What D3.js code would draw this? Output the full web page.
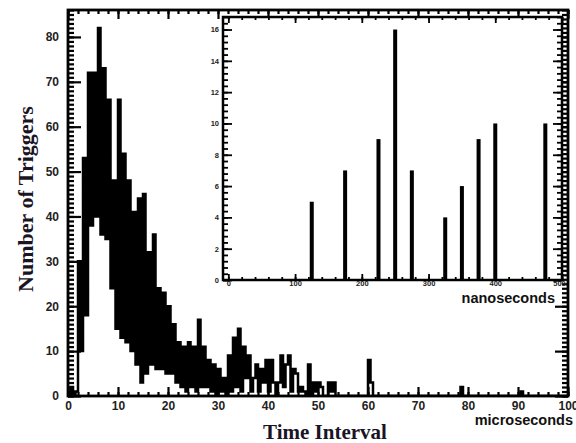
<!DOCTYPE html>
<html><head><meta charset="utf-8">
<script src="https://cdn.jsdelivr.net/npm/d3@7/dist/d3.min.js"></script>
<style>body{margin:0;background:#fff}svg{display:block}</style>
</head><body><svg id="c" width="576" height="443"></svg>
<script>
// ---- data ----
const binWidth = 0.5; // microseconds per bin
const counts = [
 0,2,0,1,30,10,53,18,72,38,
 72,40,82,36,73,35,66,24,48,15,
 66,13,54,12,48,10,41,7,44,3,
 45,5,32,7,36,6,24,6,23,5,
 20,5,16,3,12,2,11,1,12,2,
 11,1,17,2,11,2,8,1,7,0,
 6,1,4,0,9,1,13,2,15,1,
 11,4,9,1,4,7,1,6,3,8,
 1,8,3,0,3,9,2,7,9,1,
 6,5,1,2,1,0,7,0,3,1,
 3,2,0,0,3,1,3,0,0,0,
 0,0,0,0,0,0,0,0,0,0,
 8,3,0,0,0,0,0,0,0,0,
 0,0,0,0,0,0,0,0,0,0,
 0,0,0,0,0,0,0,0,0,0,
 0,0,0,0,0,0,0,2,0,0,
 0,0,0,0,0,0,0,0,0,0,
 0,0,0,0,0,0,0,0,0,0,
 0,1,0,0,0,0,0,0,0,0,
 0,0,0,0,0,0,0,0,0,0
];
const xTicksMain = [0,10,20,30,40,50,60,70,80,90,100];
const yTicksMain = [0,10,20,30,40,50,60,70,80];
const insetTimes  = [125,175,225,250,275,325,350,375,400,475];
const insetCounts = [5,7,9,16,7,4,6,9,10,10];
const xTicksInset = [0,100,200,300,400,500];
const yTicksInset = [0,2,4,6,8,10,12,14,16];

// ---- layout ----
const svg = d3.select('#c');
svg.append('rect').attr('width',576).attr('height',443).attr('fill','#fff');
const L=68, R=568, T=10, B=396;
const x = d3.scaleLinear().domain([0,100]).range([L,R]);
const y = d3.scaleLinear().domain([0,86]).range([B,T]);
const tickFont = 'Liberation Sans, Arial, sans-serif';

function styleAxis(g, fs){
  g.select('.domain').remove();
  g.selectAll('line').attr('stroke','#000').attr('stroke-width',2.2);
  g.selectAll('text').attr('font-family',tickFont).attr('font-weight','bold')
   .attr('font-size',fs).attr('fill','#222');
}

// clip
svg.append('clipPath').attr('id','clipMain').append('rect')
  .attr('x',L).attr('y',T).attr('width',R-L).attr('height',B-T);

// histogram as thick step line
const pts = counts.map((c,i)=>[i*binWidth,c]);
pts.push([counts.length*binWidth, counts[counts.length-1]]);
const line = d3.line().x(d=>x(d[0])).y(d=>y(d[1])).curve(d3.curveStepAfter);
svg.append('path').attr('d', line([[0,0]].concat(pts)))
  .attr('fill','none').attr('stroke','#000').attr('stroke-width',2.5)
  .attr('clip-path','url(#clipMain)');

// main axes
styleAxis(svg.append('g').attr('transform',`translate(0,${B})`)
  .call(d3.axisBottom(x).tickValues(d3.range(0,101,2)).tickSize(-4).tickFormat('')),12);
styleAxis(svg.append('g').attr('transform',`translate(0,${B})`)
  .call(d3.axisBottom(x).tickValues(xTicksMain).tickSize(-9).tickPadding(5).tickFormat(d3.format('d'))),12);
styleAxis(svg.append('g').attr('transform',`translate(0,${T})`)
  .call(d3.axisTop(x).tickValues(d3.range(0,101,2)).tickSize(-4).tickFormat('')),12);
styleAxis(svg.append('g').attr('transform',`translate(0,${T})`)
  .call(d3.axisTop(x).tickValues(xTicksMain).tickSize(-9).tickFormat('')),12);
styleAxis(svg.append('g').attr('transform',`translate(${L},0)`)
  .call(d3.axisLeft(y).tickValues(d3.range(0,87,1)).tickSize(-6).tickFormat('')),12);
styleAxis(svg.append('g').attr('transform',`translate(${L},0)`)
  .call(d3.axisLeft(y).tickValues(yTicksMain).tickSize(-13).tickPadding(9).tickFormat(d3.format('d'))),12);
styleAxis(svg.append('g').attr('transform',`translate(${R},0)`)
  .call(d3.axisRight(y).tickValues(d3.range(0,87,1)).tickSize(-6).tickFormat('')),12);
styleAxis(svg.append('g').attr('transform',`translate(${R},0)`)
  .call(d3.axisRight(y).tickValues(yTicksMain).tickSize(-13).tickFormat('')),12);
svg.append('rect').attr('x',L).attr('y',T).attr('width',R-L).attr('height',B-T)
  .attr('fill','none').attr('stroke','#000').attr('stroke-width',2.8);

// ---- inset ----
const iL=223, iR=562, iT=17, iB=280;
const xi = d3.scaleLinear().domain([-8,500]).range([iL,iR]);
const yi = d3.scaleLinear().domain([0,16.8]).range([iB,iT]);
const inset = svg.append('g');
inset.append('rect').attr('x',iL).attr('y',iT).attr('width',iR-iL).attr('height',iB-iT)
  .attr('fill','#fff');
inset.selectAll('rect.bar').data(insetTimes).join('rect').attr('class','bar')
  .attr('x',(d)=>xi(d)-2).attr('width',4)
  .attr('y',(d,i)=>yi(insetCounts[i])).attr('height',(d,i)=>yi(0)-yi(insetCounts[i]))
  .attr('fill','#000');
styleAxis(inset.append('g').attr('transform',`translate(0,${iB})`)
  .call(d3.axisBottom(xi).tickValues(d3.range(0,501,20)).tickSize(-3).tickFormat('')),8);
const ixAxis = inset.append('g').attr('transform',`translate(0,${iB})`)
  .call(d3.axisBottom(xi).tickValues(xTicksInset).tickSize(-6).tickPadding(1).tickFormat(d3.format('d')));
styleAxis(ixAxis,7.5);
ixAxis.selectAll('text').filter(d=>d===500).attr('dx',-3);
styleAxis(inset.append('g').attr('transform',`translate(0,${iT})`)
  .call(d3.axisTop(xi).tickValues(d3.range(0,501,20)).tickSize(-3).tickFormat('')),8);
styleAxis(inset.append('g').attr('transform',`translate(0,${iT})`)
  .call(d3.axisTop(xi).tickValues(xTicksInset).tickSize(-6).tickFormat('')),8);
styleAxis(inset.append('g').attr('transform',`translate(${iL},0)`)
  .call(d3.axisLeft(yi).tickValues(d3.range(0,16.81,0.4)).tickSize(-5).tickFormat('')),8);
styleAxis(inset.append('g').attr('transform',`translate(${iL},0)`)
  .call(d3.axisLeft(yi).tickValues(yTicksInset).tickSize(-9).tickPadding(4).tickFormat(d3.format('d'))),7.5);
styleAxis(inset.append('g').attr('transform',`translate(${iR},0)`)
  .call(d3.axisRight(yi).tickValues(d3.range(0,16.81,0.4)).tickSize(-5).tickFormat('')),8);
styleAxis(inset.append('g').attr('transform',`translate(${iR},0)`)
  .call(d3.axisRight(yi).tickValues(yTicksInset).tickSize(-9).tickFormat('')),8);
inset.selectAll('g line').attr('stroke-width',1.8);
inset.append('rect').attr('x',iL).attr('y',iT).attr('width',iR-iL).attr('height',iB-iT)
  .attr('fill','none').attr('stroke','#000').attr('stroke-width',2.5);

// ---- titles ----
svg.append('text').attr('x',555).attr('y',303).attr('text-anchor','end')
  .attr('font-family',tickFont).attr('font-weight','bold').attr('font-size',14.5)
  .attr('fill','#111').text('nanoseconds');
svg.append('text').attr('x',573).attr('y',425).attr('text-anchor','end')
  .attr('font-family',tickFont).attr('font-weight','bold').attr('font-size',14.5)
  .attr('fill','#111').text('microseconds');
svg.append('text').attr('x',325).attr('y',439).attr('text-anchor','middle')
  .attr('font-family','Liberation Serif, Times New Roman, serif').attr('font-weight','bold')
  .attr('font-size',21).attr('fill','#1a1424').text('Time Interval');
svg.append('text').attr('transform','translate(33,199) rotate(-90)').attr('text-anchor','middle')
  .attr('font-family','Liberation Serif, Times New Roman, serif').attr('font-weight','bold')
  .attr('font-size',22).attr('fill','#1a1424').text('Number of Triggers');
</script></body></html>
